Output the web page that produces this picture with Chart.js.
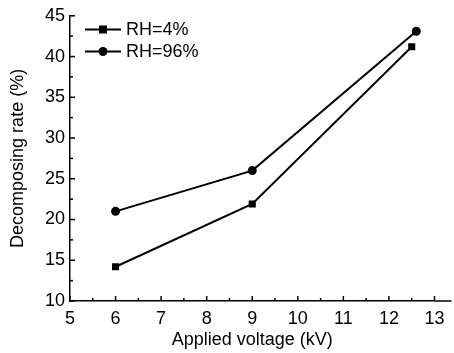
<!DOCTYPE html>
<html>
<head>
<meta charset="utf-8">
<script src="https://cdn.jsdelivr.net/npm/chart.js@4/dist/chart.umd.min.js"></script>
<style>
  html, body { margin: 0; padding: 0; background: #fff; }
  #wrap { width: 454px; height: 353px; }
</style>
</head>
<body>
<div id="wrap"><canvas id="chart"></canvas></div>
<script>
// Data
const LABEL_LOW = 'RH=4%';
const LABEL_HIGH = 'RH=96%';
const voltageLow = [6, 9, 12.5];
const rateLow = [14.2, 21.9, 41.2];
const voltageHigh = [6, 9, 12.6];
const rateHigh = [21.0, 26.0, 43.1];

const X_TITLE = 'Applied voltage (kV)';
const Y_TITLE = 'Decomposing rate (%)';

const FONT = "'Liberation Sans', Arial, sans-serif";

function toPoints(xs, ys) {
  return xs.map((x, i) => ({ x: x, y: ys[i] }));
}

// inward ticks, axis tail and the in-plot legend
var origin = {
  id: 'origin',
  afterDraw(chart) {
    const ctx = chart.ctx;
    const xs = chart.scales.x;
    const ys = chart.scales.y;
    const area = chart.chartArea;
    ctx.save();
    ctx.strokeStyle = '#000';
    ctx.lineWidth = 1.5;

    // x axis line runs a bit past 13
    ctx.beginPath();
    ctx.moveTo(area.right, area.bottom);
    ctx.lineTo(area.right + 17, area.bottom);
    ctx.stroke();

    for (let v = xs.min; v <= xs.max + 0.001; v += 0.5) {
      const px = xs.getPixelForValue(v);
      const len = Number.isInteger(v) ? 5 : 3;
      ctx.beginPath();
      ctx.moveTo(px, area.bottom);
      ctx.lineTo(px, area.bottom - len);
      ctx.stroke();
    }
    for (let v = ys.min; v <= ys.max + 0.001; v += 2.5) {
      const py = ys.getPixelForValue(v);
      const len = v % 5 === 0 ? 5 : 3;
      ctx.beginPath();
      ctx.moveTo(area.left, py);
      ctx.lineTo(area.left + len, py);
      ctx.stroke();
    }

    // legend
    const rows = [29.5, 51.5];
    chart.data.datasets.forEach((ds, i) => {
      const y = rows[i];
      ctx.lineWidth = 2;
      ctx.beginPath();
      ctx.moveTo(85, y);
      ctx.lineTo(121, y);
      ctx.stroke();
      ctx.fillStyle = '#000';
      if (ds.pointStyle === 'rect') {
        ctx.fillRect(103 - 4, y - 4, 8, 8);
      } else {
        ctx.beginPath();
        ctx.arc(103, y, 4.5, 0, Math.PI * 2);
        ctx.fill();
      }
      ctx.font = '18px ' + FONT;
      ctx.textBaseline = 'middle';
      ctx.textAlign = 'left';
      ctx.fillText(ds.label, 126, y + 1);
    });
    ctx.restore();
  }
};

var chartCtx = document.getElementById('chart').getContext('2d');
var chart = new Chart(chartCtx, {
  type: 'scatter',
  data: {
    datasets: [{
      label: LABEL_LOW,
      data: toPoints(voltageLow, rateLow),
      showLine: true,
      borderColor: '#000',
      backgroundColor: '#000',
      borderWidth: 2,
      pointStyle: 'rect',
      pointRadius: 5,
      pointBorderWidth: 0,
    }, {
      label: LABEL_HIGH,
      data: toPoints(voltageHigh, rateHigh),
      showLine: true,
      borderColor: '#000',
      backgroundColor: '#000',
      borderWidth: 2,
      pointStyle: 'circle',
      pointRadius: 4.5,
      pointBorderWidth: 0,
    }]
  },
  options: {
    responsive: true,
    maintainAspectRatio: false,
    animation: false,
    layout: {
      padding: { left: 0, top: 14, right: 19.5, bottom: 0 }
    },
    scales: {
      x: {
        type: 'linear',
        min: 5,
        max: 13,
        grid: { display: false, drawTicks: false },
        border: { display: true, color: '#000', width: 1.5 },
        ticks: {
          stepSize: 1,
          padding: 7,
          color: '#000',
          font: { family: FONT, size: 18 },
          maxRotation: 0,
        },
        title: {
          display: true,
          text: X_TITLE,
          color: '#000',
          font: { family: FONT, size: 18 },
          padding: { top: 0, bottom: 2 },
        },
        afterFit(scale) { scale.height = 52; }
      },
      y: {
        min: 10,
        max: 45,
        grid: { display: false, drawTicks: false },
        border: { display: true, color: '#000', width: 1.5 },
        ticks: {
          stepSize: 5,
          padding: 5,
          color: '#000',
          font: { family: FONT, size: 18 },
        },
        title: {
          display: true,
          text: Y_TITLE,
          color: '#000',
          font: { family: FONT, size: 18 },
          padding: { top: 7, bottom: 0 },
        },
        afterFit(scale) { scale.width = 70; }
      }
    },
    plugins: {
      legend: { display: false },
      tooltip: { enabled: false },
    }
  },
  plugins: [origin],
});
</script>
</body>
</html>
